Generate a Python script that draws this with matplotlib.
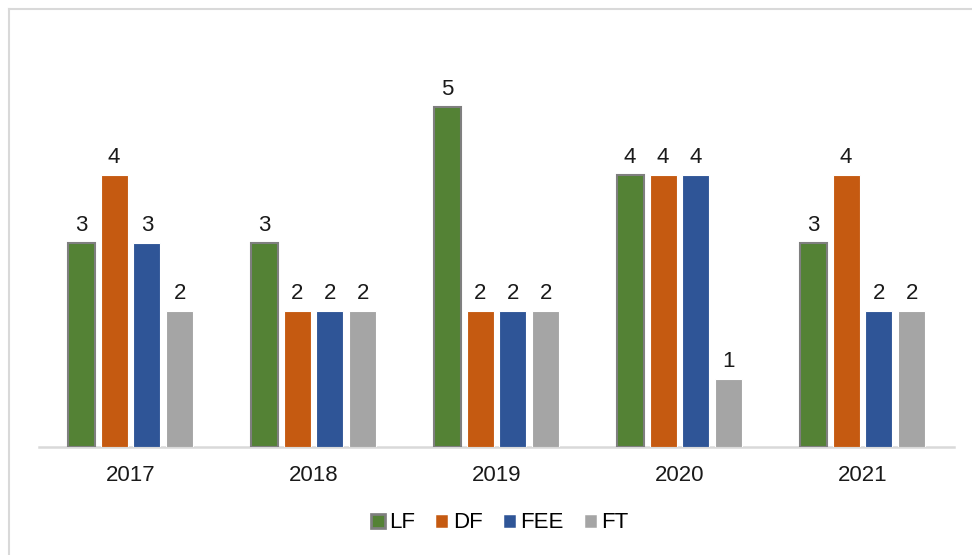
import numpy as np
import matplotlib.pyplot as plt
from matplotlib.lines import Line2D
from matplotlib.patches import Patch

plt.rcParams['font.family'] = ['Liberation Sans', 'DejaVu Sans']

years = ['2017', '2018', '2019', '2020', '2021']
series = ['LF', 'DF', 'FEE', 'FT']
lf = [3, 3, 5, 4, 3]
df = [4, 2, 2, 4, 4]
fee = [3, 2, 2, 4, 2]
ft = [2, 2, 2, 1, 2]

colors = ['#548235', '#C55A11', '#2F5597', '#A5A5A5']
edges = ['#7F7F7F', 'white', 'white', 'white']
widths = [1.5, 0.8, 0.8, 0.8]

fig = plt.figure(figsize=(9.72, 5.55), dpi=100)
W, H = 972, 555
ax = fig.add_axes([39 / W, (H - 447) / H, (954 - 39) / W, 408 / H])

x = np.arange(len(years))
offsets = [-0.27, -0.09, 0.09, 0.27]
bw = 0.1475
fs = 16
for vals, off, c, ec, lw in zip([lf, df, fee, ft], offsets, colors, edges, widths):
    bars = ax.bar(x + off, vals, bw, color=c, edgecolor=ec, linewidth=lw, zorder=3)
    for b, v in zip(bars, vals):
        ax.annotate(str(v), (b.get_x() + b.get_width() / 2, v), xytext=(0, 5),
                    textcoords='offset points', ha='center', va='bottom',
                    fontsize=fs, color='#1a1a1a')

ax.set_xlim(-0.5, 4.5)
ax.set_ylim(0, 6)
ax.set_yticks([])
ax.set_xticks(x)
ax.set_xticklabels(years, fontsize=fs, color='#1a1a1a')
ax.tick_params(axis='x', length=0, pad=13)
for s in ['top', 'right', 'left']:
    ax.spines[s].set_visible(False)
ax.spines['bottom'].set_color('#D9D9D9')
ax.spines['bottom'].set_linewidth(1.8)

handles = [Patch(facecolor=c, edgecolor=ec, linewidth=lw * 1.3, label=s)
           for c, ec, lw, s in zip(colors, edges, widths, series)]
fig.legend(handles=handles, loc='center', bbox_to_anchor=(500 / W, (H - 523) / H),
           ncol=4, frameon=False, fontsize=fs, handlelength=0.6, handleheight=0.6,
           handletextpad=0.2, columnspacing=0.9)

# outer frame (left and top only)
fig.add_artist(Line2D([9 / W, 9 / W], [0, 1 - 9 / H], color='#D9D9D9', lw=1.5))
fig.add_artist(Line2D([9 / W, 1], [1 - 9 / H, 1 - 9 / H], color='#D9D9D9', lw=1.5))

fig.savefig('out.png', dpi=100)
